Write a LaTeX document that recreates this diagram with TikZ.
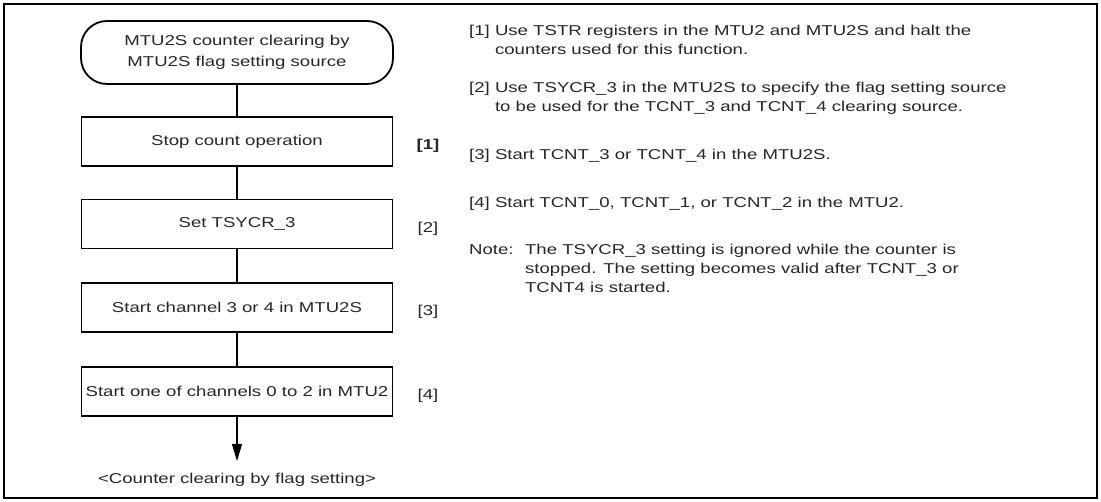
\documentclass[tikz,border=0pt]{standalone}
\usepackage{fontspec}
\setmainfont{Liberation Sans}[FakeStretch=1.3]
\usetikzlibrary{arrows.meta}
\tikzset{
  base/.style={font=\fontsize{14.3}{19}\selectfont, text=black!85},
  stepbox/.style={draw, line width=1.8pt, minimum width=311pt, minimum height=49pt, inner sep=0pt, base},
  term/.style={draw, line width=1.8pt, rounded corners=26pt, minimum width=312pt, minimum height=63pt, inner sep=0pt, align=center, font=\fontsize{14.3}{21}\selectfont, text=black!85},
  conn/.style={line width=1.1pt},
  lbl/.style={base, anchor=center, inner sep=0pt},
  para/.style={base, anchor=base west, inner sep=0pt},
  frame/.style={line width=2.4pt},
}
\begin{document}
\begin{tikzpicture}[x=1pt,y=-1pt]
\useasboundingbox (0,0) rectangle (1101,502);
\draw[frame] (4,4) rectangle (1097,498);
% flowchart
\node[term] (t) at (237,52.5) {MTU2S counter clearing by\\MTU2S flag setting source};
\node[stepbox] (b1) at (237,141.5) {Stop count operation};
\node[stepbox] (b2) at (237,224) {Set TSYCR\_3};
\node[stepbox] (b3) at (237,307.5) {Start channel 3 or 4 in MTU2S};
\node[stepbox] (b4) at (237,391.5) {Start one of channels 0 to 2 in MTU2};
\coordinate (tip) at (237,461);
\node[base] (endtxt) at (237,480) {<Counter clearing by flag setting>};
\draw[conn] (t) -- (b1);
\draw[conn] (b1) -- (b2);
\draw[conn] (b2) -- (b3);
\draw[conn] (b3) -- (b4);
\draw[conn, -{Triangle[length=17pt,width=10pt]}] (b4) -- (tip);
% step labels
\node[lbl] (l1) at (428,146) {\textbf{[1]}};
\node[lbl] (l2) at (428,229) {[2]};
\node[lbl] (l3) at (428,312) {[3]};
\node[lbl] (l4) at (428,396) {[4]};
% notes
\node[para] (n1) at (469,36) {\begin{tabular}[t]{@{}l@{}}[1] Use TSTR registers in the MTU2 and MTU2S and halt the\\\phantom{[1] }counters used for this function.\end{tabular}};
\node[para] (n2) at (469,93) {\begin{tabular}[t]{@{}l@{}}[2] Use TSYCR\_3 in the MTU2S to specify the flag setting source\\\phantom{[2] }to be used for the TCNT\_3 and TCNT\_4 clearing source.\end{tabular}};
\node[para] (n3) at (469,160) {[3] Start TCNT\_3 or TCNT\_4 in the MTU2S.};
\node[para] (n4) at (469,208) {[4] Start TCNT\_0, TCNT\_1, or TCNT\_2 in the MTU2.};
\node[para] (n5) at (469,255) {\begin{tabular}[t]{@{}l@{\hspace{11.5pt}}l@{}}Note: & The TSYCR\_3 setting is ignored while the counter is\\ & stopped. The setting becomes valid after TCNT\_3 or\\ & TCNT4 is started.\end{tabular}};
\end{tikzpicture}
\end{document}
